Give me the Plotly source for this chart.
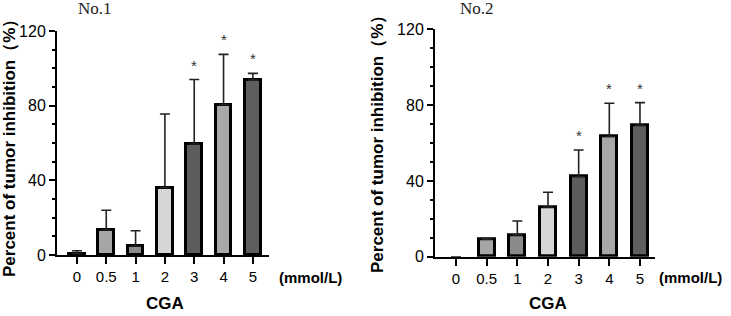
import plotly.graph_objects as go

categories = ["0", "0.5", "1", "2", "3", "4", "5"]
bar_colors = ["#9a9a9a", "#a6a6a6", "#8a8a8a", "#d6d6d6", "#5c5c5c", "#a8a8a8", "#5e5e5e"]

no1_mean = [0.8, 13.4, 4.8, 36.0, 59.5, 80.5, 93.7]
no1_err = [1.5, 10.6, 8.2, 39.5, 34.5, 27.0, 3.6]
no1_sig = [False, False, False, False, True, True, True]

no2_mean = [0.0, 9.3, 11.5, 26.2, 42.2, 63.4, 69.5]
no2_err = [0.0, 0.3, 7.3, 7.8, 14.1, 17.6, 11.8]
no2_sig = [False, False, False, False, True, True, True]

y_ticks = [0, 40, 80, 120]

panels = [
    dict(name="No.1", mean=no1_mean, err=no1_err, sig=no1_sig, xa="x", ya="y",
         xdom=[57/731, 269/731], ydom=[61/316, 285/316], xr=[-0.68, 6.55],
         ytitle_x=9/731, ytitle_y=(316-144)/316, title_x=95/731,
         unit_x=310/731, cga_x=165/731),
    dict(name="No.2", mean=no2_mean, err=no2_err, sig=no2_sig, xa="x2", ya="y2",
         xdom=[435/731, 655/731], ydom=[59.3/316, 286.7/316], xr=[-0.685, 6.49],
         ytitle_x=377/731, ytitle_y=(316-140)/316, title_x=477/731,
         unit_x=690/731, cga_x=548/731),
]

fig = go.Figure()
annotations = []
layout = {}
xs = list(range(len(categories)))

for i, p in enumerate(panels):
    line_w = [0 if v == 0 else 3 for v in p["mean"]]
    fig.add_trace(go.Bar(
        x=xs, y=p["mean"], width=0.53,
        marker=dict(color=bar_colors, line=dict(color="black", width=line_w)),
        error_y=dict(type="data", symmetric=False, array=p["err"],
                     arrayminus=[0] * len(p["err"]),
                     visible=True, color="#222222", thickness=1.6, width=5),
        xaxis=p["xa"], yaxis=p["ya"], showlegend=False, hoverinfo="skip",
    ))
    suffix = "" if i == 0 else "2"
    layout["xaxis" + suffix] = dict(
        domain=p["xdom"], range=p["xr"], anchor=p["ya"], automargin=False,
        tickmode="array", tickvals=xs, ticktext=categories,
        showline=True, linecolor="black", linewidth=2,
        ticks="outside", ticklen=7, tickwidth=2, tickcolor="black",
        showgrid=False, zeroline=False,
        tickfont=dict(family="Liberation Sans, Arial", size=15, color="black"),
        fixedrange=True,
    )
    layout["yaxis" + suffix] = dict(
        domain=p["ydom"], range=[0, 120], anchor=p["xa"], automargin=False,
        tickmode="array", tickvals=y_ticks,
        showline=True, linecolor="black", linewidth=2,
        ticks="outside", ticklen=6, tickwidth=2, tickcolor="black",
        minor=dict(dtick=10, tick0=0, ticks="outside", ticklen=3,
                   tickwidth=1.5, tickcolor="black", showgrid=False),
        showgrid=False, zeroline=False,
        tickfont=dict(family="Liberation Sans, Arial", size=16, color="black"),
        fixedrange=True,
    )
    for j, s in enumerate(p["sig"]):
        if s:
            annotations.append(dict(
                x=j, y=p["mean"][j] + p["err"][j], xref=p["xa"], yref=p["ya"],
                text="*", showarrow=False, yanchor="bottom", yshift=4,
                font=dict(family="Liberation Sans, Arial", size=15, color="#333333"),
            ))
    annotations.append(dict(
        x=p["title_x"], y=1 - 8/316, xref="paper", yref="paper",
        text=p["name"], showarrow=False, xanchor="center", yanchor="middle",
        font=dict(family="Liberation Serif, Times New Roman", size=17, color="#222222"),
    ))
    annotations.append(dict(
        x=p["ytitle_x"], y=p["ytitle_y"], xref="paper", yref="paper",
        text="Percent of tumor inhibition（%）", textangle=-90, showarrow=False,
        xanchor="center", yanchor="middle",
        font=dict(family="Liberation Sans, Arial", size=17, color="black", weight="bold"),
    ))
    annotations.append(dict(
        x=p["unit_x"], y=1 - 277/316, xref="paper", yref="paper",
        text="(mmol/L)", showarrow=False, xanchor="center", yanchor="middle",
        font=dict(family="Liberation Sans, Arial", size=15, color="black", weight="bold"),
    ))
    annotations.append(dict(
        x=p["cga_x"], y=1 - 303/316, xref="paper", yref="paper",
        text="CGA", showarrow=False, xanchor="center", yanchor="middle",
        font=dict(family="Liberation Sans, Arial", size=17, color="black", weight="bold"),
    ))

fig.update_layout(
    width=731, height=316, autosize=False,
    margin=dict(l=0, r=0, t=0, b=0, pad=0, autoexpand=False),
    paper_bgcolor="white", plot_bgcolor="white",
    annotations=annotations, bargap=0,
    **layout,
)

fig.write_html(
    "out.html",
    config={"displayModeBar": False},
    post_script="document.body.style.margin='0';document.body.style.overflow='hidden';",
)
